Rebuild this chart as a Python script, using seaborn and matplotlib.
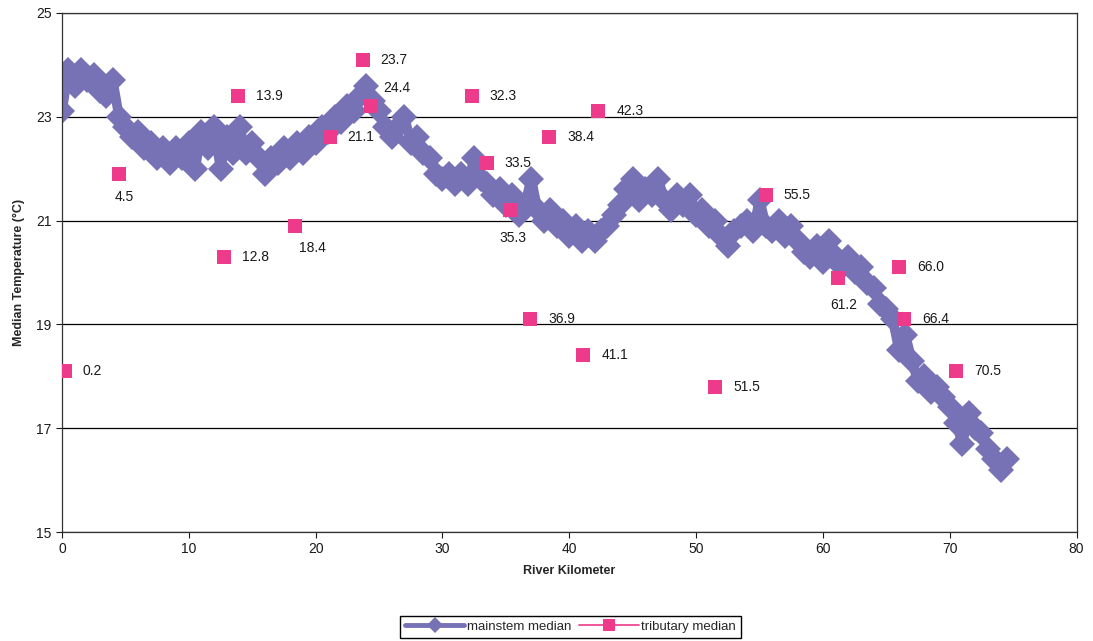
import numpy as np
import pandas as pd
import matplotlib
matplotlib.use('Agg')
import matplotlib.pyplot as plt
from matplotlib.lines import Line2D
import seaborn as sns

# mainstem median temperature, every 0.5 km
main_km = [0.0, 0.5, 1.0, 1.5, 2.0, 2.5, 3.0, 3.5, 4.0, 4.5,
           5.0, 5.5, 6.0, 6.5, 7.0, 7.5, 8.0, 8.5, 9.0, 9.5,
           10.0, 10.5, 11.0, 11.5, 12.0, 12.5, 13.0, 13.5, 14.0, 14.5,
           15.0, 15.5, 16.0, 16.5, 17.0, 17.5, 18.0, 18.5, 19.0, 19.5,
           20.0, 20.5, 21.0, 21.5, 22.0, 22.5, 23.0, 23.5, 24.0, 24.5,
           25.0, 25.5, 26.0, 26.5, 27.0, 27.5, 28.0, 28.5, 29.0, 29.5,
           30.0, 30.5, 31.0, 31.5, 32.0, 32.5, 33.0, 33.5, 34.0, 34.5,
           35.0, 35.5, 36.0, 36.5, 37.0, 37.5, 38.0, 38.5, 39.0, 39.5,
           40.0, 40.5, 41.0, 41.5, 42.0, 42.5, 43.0, 43.5, 44.0, 44.5,
           45.0, 45.5, 46.0, 46.5, 47.0, 47.5, 48.0, 48.5, 49.0, 49.5,
           50.0, 50.5, 51.0, 51.5, 52.0, 52.5, 53.0, 53.5, 54.0, 54.5,
           55.0, 55.5, 56.0, 56.5, 57.0, 57.5, 58.0, 58.5, 59.0, 59.5,
           60.0, 60.5, 61.0, 61.5, 62.0, 62.5, 63.0, 63.5, 64.0, 64.5,
           65.0, 65.5, 66.0, 66.5, 67.0, 67.5, 68.0, 68.5, 69.0, 69.5,
           70.0, 70.5, 71.0, 71.5, 72.0, 72.5, 73.0, 73.5, 74.0, 74.5]
main_temp = [23.1, 23.9, 23.6, 23.9, 23.7, 23.8, 23.5, 23.4, 23.7, 23.0,
             22.8, 22.6, 22.7, 22.4, 22.5, 22.2, 22.4, 22.1, 22.4, 22.2,
             22.5, 22.0, 22.7, 22.4, 22.8, 22.0, 22.6, 22.3, 22.8, 22.3,
             22.5, 22.2, 21.9, 22.2, 22.1, 22.4, 22.2, 22.5, 22.3, 22.6,
             22.5, 22.8, 22.7, 23.0, 22.9, 23.2, 23.1, 23.4, 23.6, 23.3,
             23.1, 22.8, 22.6, 22.8, 23.0, 22.5, 22.6, 22.3, 22.2, 21.9,
             21.8, 21.9, 21.7, 21.9, 21.7, 22.2, 21.8, 21.7, 21.5, 21.6,
             21.3, 21.5, 21.1, 21.3, 21.8, 21.2, 21.0, 21.2, 20.9, 21.0,
             20.7, 20.9, 20.6, 20.8, 20.6, 20.8, 20.9, 21.1, 21.3, 21.6,
             21.8, 21.4, 21.6, 21.5, 21.8, 21.4, 21.2, 21.5, 21.3, 21.5,
             21.1, 21.2, 20.9, 21.0, 20.7, 20.5, 20.8, 20.9, 21.0, 20.8,
             21.4, 20.9, 20.8, 21.0, 20.7, 20.9, 20.6, 20.4, 20.3, 20.5,
             20.2, 20.6, 20.3, 20.1, 20.3, 20.0, 20.1, 19.8, 19.7, 19.4,
             19.3, 19.1, 18.5, 18.8, 18.3, 17.9, 18.0, 17.7, 17.8, 17.6,
             17.4, 17.1, 16.7, 17.3, 17.0, 16.9, 16.6, 16.4, 16.2, 16.4]

# tributary medians
trib_km = [0.2, 4.5, 12.8, 13.9, 18.4, 21.1, 23.7, 24.4, 32.3, 33.5, 35.3,
           36.9, 38.4, 41.1, 42.3, 51.5, 55.5, 61.2, 66.0, 66.4, 70.5]
trib_temp = [18.1, 21.9, 20.3, 23.4, 20.9, 22.6, 24.1, 23.2, 23.4, 22.1, 21.2,
             19.1, 22.6, 18.4, 23.1, 17.8, 21.5, 19.9, 20.1, 19.1, 18.1]
trib_labels = ['0.2', '4.5', '12.8', '13.9', '18.4', '21.1', '23.7', '24.4',
               '32.3', '33.5', '35.3', '36.9', '38.4', '41.1', '42.3', '51.5',
               '55.5', '61.2', '66.0', '66.4', '70.5']

main_color = '#7771B5'
trib_color = '#EE3A8A'

sns.set_style('white')
plt.rcParams['font.family'] = ['Liberation Sans', 'DejaVu Sans']

main_df = pd.DataFrame({'km': main_km, 'temp': main_temp})
trib_df = pd.DataFrame({'km': trib_km, 'temp': trib_temp})

fig = plt.figure(figsize=(10.93, 6.41), dpi=100)
ax = fig.add_axes([0.0567, 0.170, 0.9283, 0.810])

ax.yaxis.grid(True, color='black', linewidth=0.9)
ax.set_axisbelow(True)

sns.lineplot(data=main_df, x='km', y='temp', ax=ax, sort=False, color=main_color,
             linewidth=7, marker='D', markersize=13, markeredgewidth=0,
             markerfacecolor=main_color, zorder=2)
sns.scatterplot(data=trib_df, x='km', y='temp', ax=ax, color=trib_color,
                marker='s', s=100, linewidth=0, zorder=3)

# label placement offsets (points) for the few labels not placed to the right
offsets = {'4.5': (4, -17), '18.4': (12, -16), '35.3': (2, -20), '61.2': (4, -20),
           '24.4': (18, 13)}
for k, t, lab in zip(trib_km, trib_temp, trib_labels):
    if lab in offsets:
        dx, dy = offsets[lab]
        ha = 'center'
    else:
        dx, dy = 13, 0
        ha = 'left'
    ax.annotate(lab, (k, t), xytext=(dx, dy), textcoords='offset points',
                ha=ha, va='center', fontsize=10, color='#1a1a1a', zorder=4)

ax.set_xlim(0, 80)
ax.set_ylim(15, 25)
ax.set_xticks(range(0, 81, 10))
ax.set_yticks(range(15, 26, 2))
ax.tick_params(axis='both', direction='out', length=4, width=0.8, labelsize=10,
               colors='#1a1a1a', bottom=True, left=True)
for sp in ax.spines.values():
    sp.set_color('#333333')
    sp.set_linewidth(0.9)

ax.set_xlabel('River Kilometer', fontsize=9, fontweight='bold', labelpad=6)
ax.set_ylabel('Median Temperature (°C)', fontsize=9, fontweight='bold', labelpad=8)

handles = [Line2D([0], [0], color=main_color, linewidth=3.5, marker='D', markersize=8,
                  markeredgewidth=0),
           Line2D([0], [0], color=trib_color, linewidth=1.2, marker='s', markersize=8,
                  markeredgewidth=0)]
fig.legend(handles, ['mainstem median', 'tributary median'], loc='center',
           bbox_to_anchor=(0.522, 0.022), ncol=2, fontsize=9.5, frameon=True,
           fancybox=False, edgecolor='black', handlelength=4.5, handletextpad=0.2,
           columnspacing=0.6, borderpad=0.35, framealpha=1)

fig.savefig('out.png', dpi=100)
